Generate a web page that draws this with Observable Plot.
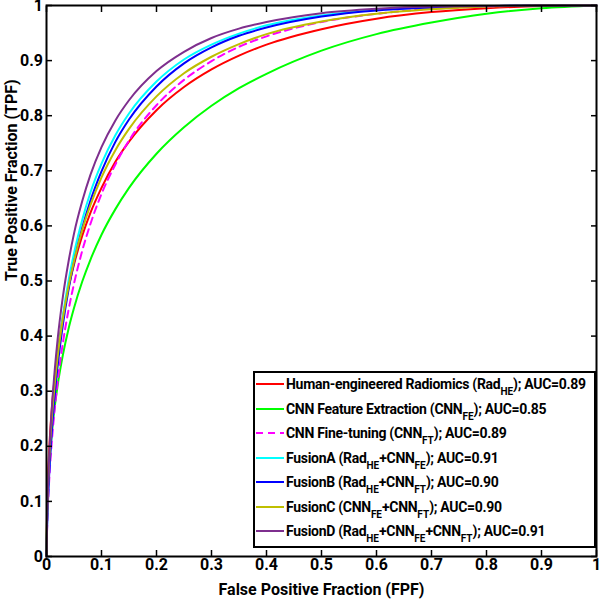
<!DOCTYPE html>
<html>
<head>
<meta charset="utf-8">
<script src="https://cdn.jsdelivr.net/npm/d3@7"></script>
<script src="https://cdn.jsdelivr.net/npm/@observablehq/plot@0.6"></script>
<style>
  body { margin: 0; background: #fff; font-family: Roboto, "Open Sans", sans-serif; }
  #wrap { position: relative; width: 600px; height: 603px; }
  .legend { position: absolute; left: 253px; top: 371px; width: 343px; height: 177px;
            border: 2px solid #000; background: #fff; box-sizing: border-box; }
  .item { position: absolute; left: 0; height: 20px; width: 338px; }
  .item svg { position: absolute; left: 0; top: 8px; }
  .item .txt { position: absolute; left: 31px; top: 0; line-height: 20px; font-size: 14px;
               letter-spacing: -0.3px; font-weight: bold; white-space: nowrap; color: #000; }
  .item sub { font-size: 10px; vertical-align: -6px; line-height: 0; letter-spacing: 0; }
</style>
</head>
<body>
<div id="wrap"></div>
<script>
// ---- data (FPF grid and TPF per curve) ----
const fpf = [0, 0.001, 0.003, 0.006, 0.01, 0.015, 0.02, 0.03, 0.04, 0.05, 0.065, 0.08, 0.1, 0.125, 0.15, 0.2, 0.25, 0.3, 0.35, 0.4, 0.5, 0.6, 0.7, 0.8, 0.9, 1];

const tpfRadHE   = [0, 0.085, 0.152, 0.214, 0.272, 0.326, 0.369, 0.436, 0.488, 0.530, 0.582, 0.624, 0.669, 0.716, 0.753, 0.810, 0.852, 0.884, 0.909, 0.929, 0.957, 0.976, 0.988, 0.995, 0.999, 1];
const tpfCNNFE   = [0, 0.073, 0.128, 0.179, 0.227, 0.272, 0.309, 0.367, 0.413, 0.451, 0.499, 0.539, 0.584, 0.630, 0.669, 0.731, 0.779, 0.818, 0.850, 0.876, 0.918, 0.948, 0.969, 0.985, 0.995, 1];
const tpfCNNFT   = [0, 0.047, 0.100, 0.157, 0.213, 0.269, 0.315, 0.389, 0.447, 0.495, 0.555, 0.604, 0.658, 0.711, 0.755, 0.819, 0.865, 0.899, 0.925, 0.944, 0.970, 0.985, 0.994, 0.998, 1, 1];
const tpfFusionA = [0, 0.054, 0.116, 0.180, 0.245, 0.307, 0.358, 0.438, 0.500, 0.550, 0.611, 0.661, 0.713, 0.764, 0.804, 0.862, 0.902, 0.929, 0.949, 0.964, 0.982, 0.992, 0.997, 0.999, 1, 1];
const tpfFusionB = [0, 0.050, 0.108, 0.170, 0.232, 0.293, 0.343, 0.422, 0.484, 0.534, 0.596, 0.646, 0.699, 0.752, 0.793, 0.853, 0.895, 0.924, 0.945, 0.960, 0.980, 0.991, 0.996, 0.999, 1, 1];
const tpfFusionC = [0, 0.067, 0.131, 0.194, 0.255, 0.313, 0.360, 0.433, 0.490, 0.536, 0.593, 0.638, 0.688, 0.737, 0.776, 0.835, 0.877, 0.907, 0.930, 0.948, 0.971, 0.985, 0.993, 0.998, 1, 1];
const tpfFusionD = [0, 0.065, 0.134, 0.205, 0.274, 0.339, 0.392, 0.473, 0.535, 0.586, 0.645, 0.693, 0.743, 0.791, 0.828, 0.881, 0.916, 0.941, 0.958, 0.970, 0.986, 0.994, 0.998, 0.999, 1, 1];

const seriesKeys = ["RadHE", "CNNFE", "CNNFT", "FusionA", "FusionB", "FusionC", "FusionD"];
const seriesValues = [tpfRadHE, tpfCNNFE, tpfCNNFT, tpfFusionA, tpfFusionB, tpfFusionC, tpfFusionD];
const seriesColors = ["#ff0000", "#00ff00", "#ff00ff", "#00ffff", "#0000ff", "#bfbf00", "#7e2f8e"];
const seriesDash = [null, null, "7,5", null, null, null, null];
const legendLabels = [
  "Human-engineered Radiomics (Rad_{HE}); AUC=0.89",
  "CNN Feature Extraction (CNN_{FE}); AUC=0.85",
  "CNN Fine-tuning (CNN_{FT}); AUC=0.89",
  "FusionA (Rad_{HE}+CNN_{FE}); AUC=0.91",
  "FusionB (Rad_{HE}+CNN_{FT}); AUC=0.90",
  "FusionC (CNN_{FE}+CNN_{FT}); AUC=0.90",
  "FusionD (Rad_{HE}+CNN_{FE}+CNN_{FT}); AUC=0.91"
];

const xTicks = [0, 0.1, 0.2, 0.3, 0.4, 0.5, 0.6, 0.7, 0.8, 0.9, 1];
const xTickLabels = ["0", "0.1", "0.2", "0.3", "0.4", "0.5", "0.6", "0.7", "0.8", "0.9", "1"];
const yTicks = [0, 0.1, 0.2, 0.3, 0.4, 0.5, 0.6, 0.7, 0.8, 0.9, 1];
const yTickLabels = ["0", "0.1", "0.2", "0.3", "0.4", "0.5", "0.6", "0.7", "0.8", "0.9", "1"];
const xTitle = "False Positive Fraction (FPF)";
const yTitle = "True Positive Fraction (TPF)";

// ---- build table ----
const rows = seriesKeys.map((k, s) => fpf.map((f, i) => ({series: k, fpf: f, tpf: seriesValues[s][i]})));

const lineMarks = rows.map((r, s) => Plot.line(r, {
  x: "fpf", y: "tpf", stroke: seriesColors[s], strokeWidth: 2,
  strokeDasharray: seriesDash[s] || undefined, curve: "monotone-x"
}));

const chart = Plot.plot({
  width: 600, height: 603,
  marginLeft: 46, marginRight: 4, marginTop: 5, marginBottom: 47,
  style: {fontFamily: "Roboto, 'Open Sans', sans-serif", fontSize: "16px", fontWeight: "bold", background: "#fff", color: "#000", overflow: "visible"},
  x: {domain: [0, 1]},
  y: {domain: [0, 1]},
  marks: [
    ...lineMarks,
    Plot.axisX(xTicks, {anchor: "bottom", tickSize: -6, tickPadding: 8.5, strokeWidth: 1.5,
      tickFormat: d => xTickLabels[xTicks.indexOf(d)], label: null}),
    Plot.axisX(xTicks, {anchor: "top", tickSize: -6, strokeWidth: 1.5, tickFormat: () => "", label: null}),
    Plot.axisY(yTicks, {anchor: "left", tickSize: -6, tickPadding: 9.5, strokeWidth: 1.5,
      tickFormat: d => yTickLabels[yTicks.indexOf(d)], label: null}),
    Plot.axisY(yTicks, {anchor: "right", tickSize: -6, strokeWidth: 1.5, tickFormat: () => "", label: null}),
    Plot.frame({stroke: "#000", strokeWidth: 2}),
    Plot.text([xTitle], {text: d => d, frameAnchor: "bottom", dy: 38, fontSize: 16, fontWeight: "bold", fill: "#000"}),
    Plot.text([yTitle], {text: d => d, frameAnchor: "left", dx: -35, rotate: -90, fontSize: 16, fontWeight: "bold", fill: "#000"})
  ]
});

const wrap = document.getElementById("wrap");
wrap.appendChild(chart);

// ---- legend ----
const legend = document.createElement("div");
legend.className = "legend";
const centers = [384.3, 408.8, 433.3, 457.8, 482.3, 506.8, 531.3];
legendLabels.forEach((lab, s) => {
  const item = document.createElement("div");
  item.className = "item";
  item.style.top = (centers[s] - 371 - 2 - 10) + "px";
  const dash = seriesDash[s] ? ` stroke-dasharray="${seriesDash[s]}"` : "";
  const html = lab.replace(/_\{([^}]*)\}/g, "<sub>$1</sub>");
  item.innerHTML = `<svg width="29" height="4"><line x1="1" x2="29" y1="2" y2="2" stroke="${seriesColors[s]}" stroke-width="2"${dash}/></svg><span class="txt">${html}</span>`;
  legend.appendChild(item);
});
wrap.appendChild(legend);
</script>
</body>
</html>
